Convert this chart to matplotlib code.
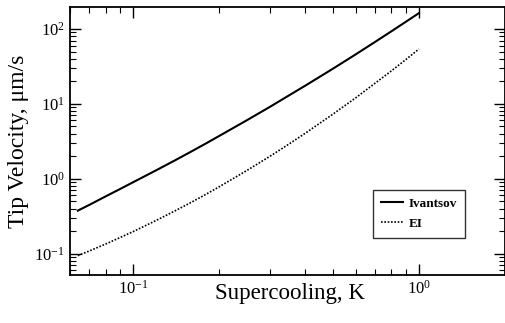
import matplotlib
matplotlib.use('Agg')
import matplotlib.pyplot as plt

plt.rcParams['font.family'] = ['Liberation Serif', 'DejaVu Serif']
plt.rcParams['mathtext.fontset'] = 'custom'
plt.rcParams['mathtext.rm'] = 'Liberation Serif'
plt.rcParams['axes.unicode_minus'] = False

# values (log-log)
supercooling = [0.064, 0.07, 0.08, 0.09, 0.1, 0.12, 0.14, 0.16, 0.18, 0.2,
                0.25, 0.3, 0.35, 0.4, 0.5, 0.6, 0.7, 0.8, 0.9, 1.0]
ivantsov = [0.375, 0.445, 0.58, 0.73, 0.90, 1.29, 1.76, 2.32, 2.97, 3.73,
            6.05, 9.06, 12.9, 17.5, 29.5, 45.7, 66.7, 92.9, 125, 163]
ei = [0.094, 0.108, 0.134, 0.164, 0.197, 0.276, 0.372, 0.486, 0.622, 0.782,
      1.29, 1.98, 2.89, 4.05, 7.29, 12.0, 18.7, 27.5, 39.1, 54.1]

fig = plt.figure(figsize=(5.06, 3.23), dpi=100)
ax = fig.add_axes([0.138, 0.149, 0.86, 0.829])

ax.plot(supercooling, ivantsov, color='black', lw=1.5, label='Ivantsov')
ax.plot(supercooling, ei, color='black', lw=1.2, ls=(0, (1, 1)), label='EI')

ax.set_xscale('log')
ax.set_yscale('log')
ax.set_xlim(0.06, 2.0)
ax.set_ylim(0.052, 196)

ax.tick_params(which='both', direction='in', top=True, right=True, labelsize=12)
ax.tick_params(which='major', length=8, width=1)
ax.tick_params(which='minor', length=4, width=0.8)
for s in ax.spines.values():
    s.set_linewidth(1.3)

ax.set_xlabel('Supercooling, K', fontsize=16.5)
ax.xaxis.set_label_coords(0.505, -0.03)
ax.set_ylabel('Tip Velocity, μm/s', fontsize=17, labelpad=4)

leg = ax.legend(loc='lower right', bbox_to_anchor=(0.908, 0.138), fontsize=9.5,
                frameon=True, fancybox=False, edgecolor='black', handlelength=1.7,
                handletextpad=0.4, borderpad=0.6, labelspacing=0.6, borderaxespad=0)
leg.get_frame().set_linewidth(1.0)
for t in leg.get_texts():
    t.set_fontweight('bold')

fig.savefig('out.png', dpi=100)
